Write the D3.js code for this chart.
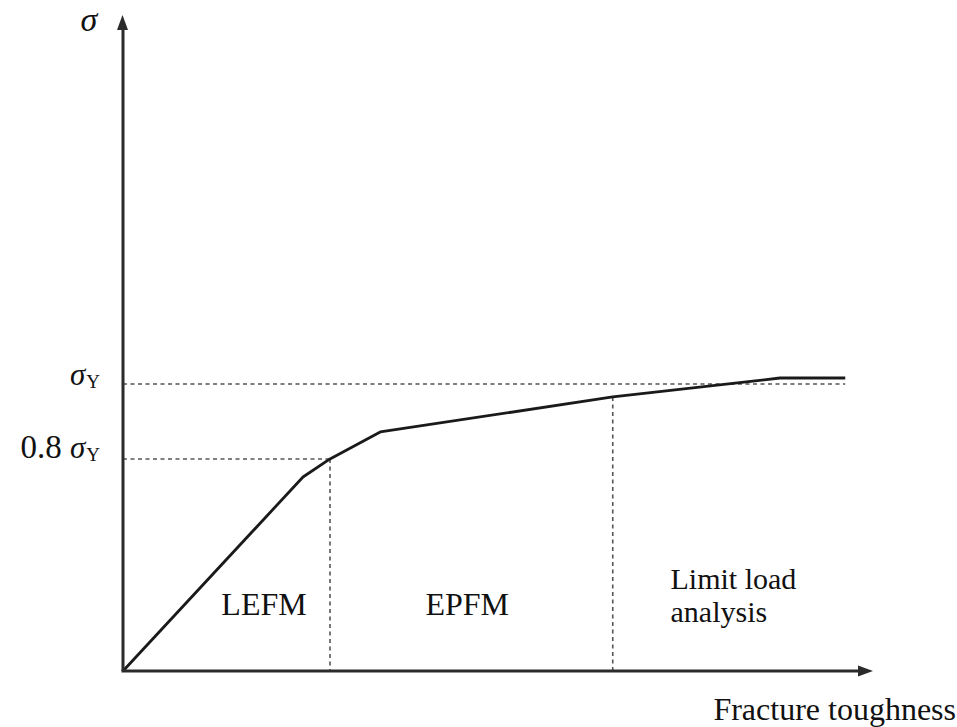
<!DOCTYPE html>
<html><head><meta charset="utf-8">
<script src="https://cdn.jsdelivr.net/npm/d3@7/dist/d3.min.js"></script>
<style>body{margin:0;background:#fff}svg{display:block}</style>
</head><body>
<script>
// Data (x: fraction of axis length in %, y: stress relative to sigma_Y)
const curveX = [0, 24.0, 27.6, 34.3, 65.3, 87.6, 96.3];
const curveY = [0, 0.676, 0.739, 0.833, 0.955, 1.021, 1.021];
const tickValues = [1.0, 0.739];
const tickMain = ["", "0.8 "];
const tickSym = ["σ", "σ"];
const tickSub = ["Y", "Y"];
const hLineEnds = [96.3, 27.6];      // where horizontal dashed guides end
const vLineX = [27.6, 65.3];         // region boundaries
const vLineTop = [0.739, 0.955];
const regionNames = [["LEFM"], ["EPFM"], ["Limit load", "analysis"]];
const regionX = [18.8, 45.9, 73.0];
const regionAnchor = ["middle", "middle", "start"];
const regionY = 0.195;

const W = 957, H = 727;
const FONT = "'Liberation Serif', 'DejaVu Serif', 'Times New Roman', Times, serif";
const svg = d3.select("body").append("svg").attr("width", W).attr("height", H)
  .style("font-family", FONT);
const x = d3.scaleLinear().domain([0, 100]).range([123, 873]);
const y = d3.scaleLinear().domain([0, 2.286]).range([671, 15]);

// dashed guides
const dashStyle = s => s.attr("stroke", "#555").attr("stroke-width", 1.6).attr("stroke-dasharray", "4 3.5").attr("fill", "none");
svg.selectAll(".hg").data(tickValues).enter().append("line")
  .attr("x1", x(0)).attr("x2", (d, i) => x(hLineEnds[i]))
  .attr("y1", d => y(d)).attr("y2", d => y(d)).call(dashStyle);
svg.selectAll(".vg").data(vLineX).enter().append("line")
  .attr("x1", d => x(d)).attr("x2", d => x(d))
  .attr("y1", (d, i) => y(vLineTop[i])).attr("y2", y(0)).call(dashStyle);

// curve
const pts = curveX.map((d, i) => [d, curveY[i]]);
svg.append("path").datum(pts)
  .attr("d", d3.line().x(d => x(d[0])).y(d => y(d[1])))
  .attr("fill", "none").attr("stroke", "#1a1a1a").attr("stroke-width", 2.8).attr("stroke-linejoin", "round");

// axes
const ax = "#2b2b2b";
svg.append("line").attr("x1", x(0)).attr("y1", y(0)).attr("x2", x(0)).attr("y2", y(2.286) + 12)
  .attr("stroke", ax).attr("stroke-width", 3);
svg.append("line").attr("x1", x(0) - 1.5).attr("y1", y(0)).attr("x2", x(100) - 12).attr("y2", y(0))
  .attr("stroke", ax).attr("stroke-width", 3);
const tx = x(0) - 0.5, ty = y(2.286);
svg.append("path").attr("d", `M${tx},${ty} L${tx - 5.5},${ty + 15} L${tx + 5.5},${ty + 15} Z`).attr("fill", ax);
const rx = x(100), ry = y(0);
svg.append("path").attr("d", `M${rx},${ry} L${rx - 15},${ry - 5.5} L${rx - 15},${ry + 5.5} Z`).attr("fill", ax);

const txt = () => svg.append("text").attr("font-family", FONT).attr("fill", "#111");

// y tick labels
tickValues.forEach((v, i) => {
  const t = txt().attr("x", 100).attr("y", y(v) + (i === 0 ? 1 : -1)).attr("text-anchor", "end").attr("font-size", 33);
  if (tickMain[i]) t.append("tspan").text(tickMain[i]);
  t.append("tspan").attr("font-style", "italic").attr("font-size", 31).text(tickSym[i]);
  t.append("tspan").attr("font-size", 19).attr("dy", 3).attr("dx", 1).text(tickSub[i]);
});

// axis titles
txt().attr("x", 89).attr("y", 31).attr("text-anchor", "middle").attr("font-size", 34).attr("font-style", "italic").text("σ");
txt().attr("x", 956).attr("y", 720).attr("text-anchor", "end").attr("font-size", 32).text("Fracture toughness");

// region labels (one text element per line)
regionNames.forEach((lines, i) => {
  const multi = lines.length > 1;
  lines.forEach((l, j) => {
    txt().attr("x", x(regionX[i])).attr("text-anchor", regionAnchor[i])
      .attr("font-size", multi ? 30 : 32)
      .attr("y", y(regionY) - (lines.length - 1 - j) * 33 + (multi ? 7 : 0)).text(l);
  });
});
</script>
</body></html>
